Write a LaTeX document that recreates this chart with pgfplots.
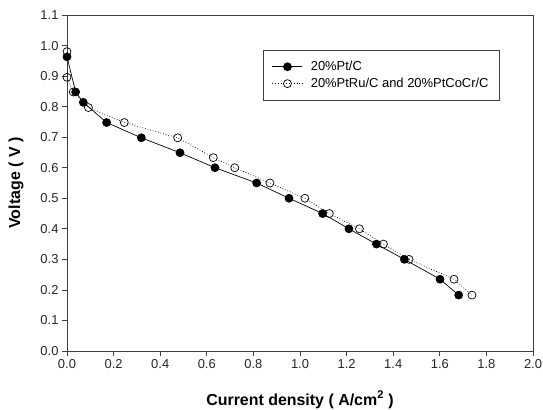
\documentclass[border=0pt]{standalone}
\usepackage{pgfplots}
\pgfplotsset{compat=1.18}
\usepackage{fontspec}
\setmainfont{Liberation Sans}
\begin{document}
\begin{tikzpicture}
\path[use as bounding box] (-67bp,-59bp) rectangle (476bp,351bp);
\begin{axis}[
  at={(0,0)}, anchor=origin,
  scale only axis, width=466bp, height=336bp,
  xmin=0, xmax=2.0, ymin=0, ymax=1.1,
  xtick={0,0.2,...,2.0}, ytick={0,0.1,...,1.1},
  axis line style={draw=black!75, line width=0.8pt},
  tick style={draw=black!75, line width=0.8pt},
  xtick pos=bottom, ytick pos=left,
  tick align=outside, major tick length=5bp,
  xticklabel style={/pgf/number format/.cd, fixed, fixed zerofill, precision=1},
  yticklabel style={/pgf/number format/.cd, fixed, fixed zerofill, precision=1},
  /pgf/number format/assume math mode=true,
  ticklabel style={font=\fontsize{13}{15}\selectfont, text=black!85},
  xlabel={\textbf{Current density ( A/cm$^{\mathbf{2}}$ )}},
  ylabel={\textbf{Voltage ( V )}},
  label style={font=\fontsize{16}{18}\selectfont},
  xlabel style={at={(axis description cs:0.5,0)}, anchor=base, yshift=-54bp},
  ylabel style={at={(axis description cs:0,0.5)}, anchor=center, yshift=51bp},
  legend style={at={(0.42,0.896)}, anchor=north west, draw=black!75, line width=0.8pt,
    font=\fontsize{13}{15}\selectfont, inner xsep=9bp, inner ysep=9bp, row sep=2bp,
    column sep=6bp, nodes={line width=0.7pt}},
  legend cell align=left,
  legend image code/.code={\draw[mark repeat=2, mark phase=2, #1] plot coordinates {(0bp,0bp) (15bp,0bp) (30bp,0bp)};},
]
\addplot[black, line width=0.7pt, mark=*, mark size=4bp, mark options={solid, fill=black}] coordinates {
(0.0,0.963) (0.037,0.848) (0.07,0.814) (0.17,0.748) (0.319,0.698) (0.485,0.649) (0.635,0.600) (0.814,0.550) (0.953,0.500) (1.097,0.450) (1.21,0.400) (1.328,0.350) (1.448,0.300) (1.601,0.235) (1.681,0.183)
};
\addlegendentry{20\%Pt/C}
\addplot[black, line width=0.7pt, dotted, mark=o, mark size=4bp, mark options={solid, fill=white}] coordinates {
(0.0,0.980) (0.0,0.896) (0.027,0.848) (0.092,0.797) (0.246,0.748) (0.475,0.698) (0.628,0.633) (0.72,0.600) (0.871,0.550) (1.021,0.500) (1.126,0.450) (1.255,0.400) (1.358,0.350) (1.468,0.300) (1.661,0.235) (1.738,0.183)
};
\addlegendentry{20\%PtRu/C and 20\%PtCoCr/C}
\end{axis}
\end{tikzpicture}
\end{document}
